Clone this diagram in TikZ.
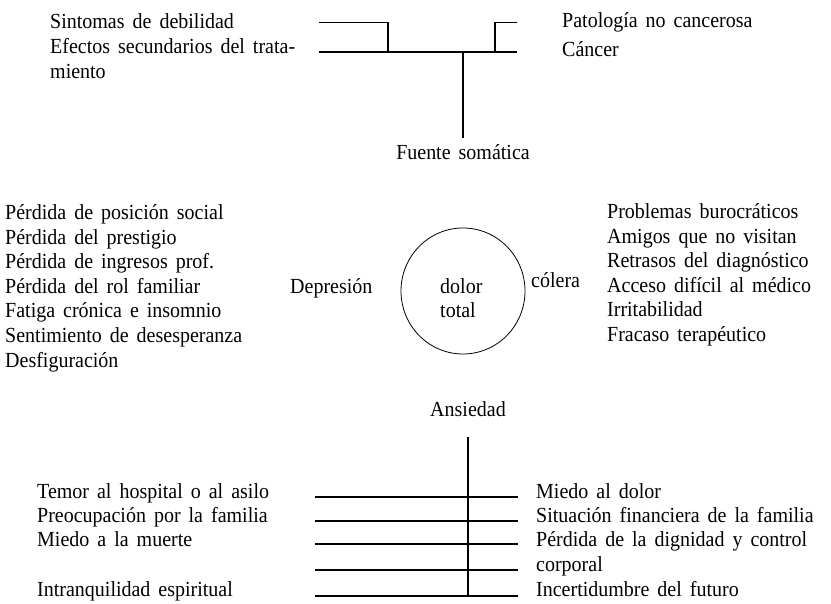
\documentclass[tikz,border=0pt]{standalone}
\usepackage{fontspec}
\setmainfont{Liberation Serif}[FakeStretch=0.93]
\usetikzlibrary{shapes.geometric}
\newcommand{\txtfont}{\fontsize{21.5}{24.5}\selectfont\spaceskip=8pt plus 3pt minus 1pt\relax}
\begin{document}
\begin{tikzpicture}[x=1pt,y=-1pt,
  lbl/.style={anchor=base west,inner sep=0pt,font=\txtfont},
  ctr/.style={lbl,anchor=base},
  ln/.style={line width=1.1pt}]
\useasboundingbox (0,0) rectangle (831,604);
% ---- fuente somatica
\node[lbl] (s1) at (50,29) {Sintomas de debilidad};
\node[lbl] (s2) at (50,54) {Efectos secundarios del trata-};
\node[lbl] (s3) at (50,79) {miento};
\node[lbl] (p1) at (562,28) {Patología no cancerosa};
\node[lbl] (p2) at (562,57) {Cáncer};
\node[ctr] (fs) at (463,160) {Fuente somática};
\coordinate (a1) at (319,22.5); \coordinate (a2) at (388,22.5); \coordinate (a3) at (388,52);
\coordinate (b1) at (319,52); \coordinate (b2) at (517,52);
\coordinate (c1) at (517,22.5); \coordinate (c2) at (495,22.5); \coordinate (c3) at (495,52);
\coordinate (st1) at (463,52); \coordinate (st2) at (463,138);
\draw[ln] (a1) -- (a2) -- (a3);
\draw[ln] (b1) -- (b2);
\draw[ln] (c1) -- (c2) -- (c3);
\draw[ln] (st1) -- (st2);
% ---- depresion
\foreach \t [count=\i from 0] in {Pérdida de posición social,Pérdida del prestigio,Pérdida de ingresos prof.,Pérdida del rol familiar,Fatiga crónica e insomnio,Sentimiento de desesperanza,Desfiguración}
  \node[lbl] (l\i) at (5,220+24.5*\i) {\t};
\node[lbl] (dep) at (290,293.5) {Depresión};
% ---- circle
\node[draw,ellipse,line width=0.8pt,minimum width=124pt,minimum height=126pt,inner sep=0pt] (dolor) at (463,291) {};
\node[lbl] (dol1) at (440,294) {dolor};
\node[lbl] (dol2) at (440,318) {total};
% ---- colera
\node[lbl] (col) at (531,288) {cólera};
\foreach \t [count=\i from 0] in {Problemas burocráticos,Amigos que no visitan,Retrasos del diagnóstico,Acceso difícil al médico,Irritabilidad,Fracaso terapéutico}
  \node[lbl] (r\i) at (607,219+24.5*\i) {\t};
% ---- ansiedad
\node[ctr] (an) at (468,417) {Ansiedad};
\coordinate (v1) at (468,437); \coordinate (v2) at (468,596);
\draw[ln] (v1) -- (v2);
\foreach \y [count=\i] in {497,521,544,570,596}{
  \coordinate (h\i a) at (315,\y); \coordinate (h\i b) at (518,\y);
  \draw[ln] (h\i a) -- (h\i b);
}
\node[lbl] (bl1) at (37,498) {Temor al hospital o al asilo};
\node[lbl] (bl2) at (37,522) {Preocupación por la familia};
\node[lbl] (bl3) at (37,546) {Miedo a la muerte};
\node[lbl] (bl4) at (37,596) {Intranquilidad espiritual};
\node[lbl] (br1) at (536,498) {Miedo al dolor};
\node[lbl] (br2) at (536,522) {Situación financiera de la familia};
\node[lbl] (br3) at (536,546) {Pérdida de la dignidad y control};
\node[lbl] (br4) at (536,571) {corporal};
\node[lbl] (br5) at (536,596) {Incertidumbre del futuro};
\end{tikzpicture}
\end{document}
